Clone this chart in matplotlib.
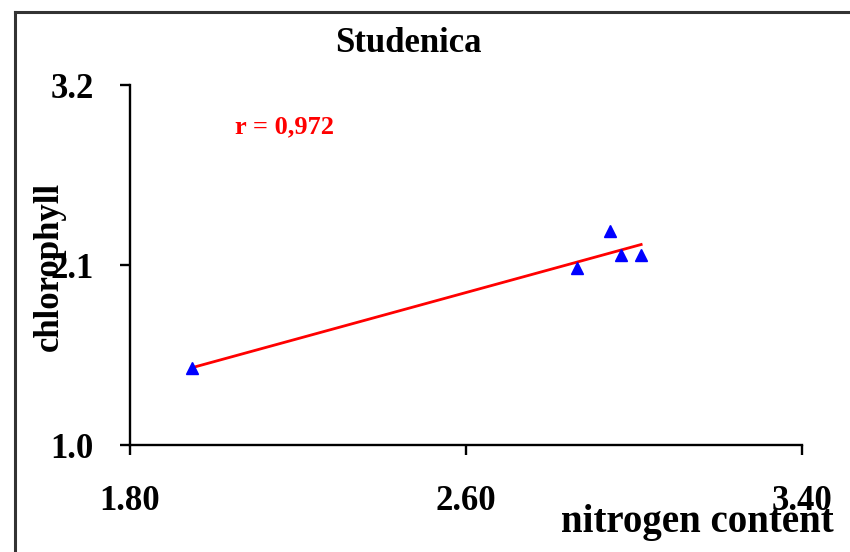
import numpy as np
import matplotlib
matplotlib.use('Agg')
import matplotlib.pyplot as plt
from matplotlib.lines import Line2D

# data
nitrogen = [1.948, 2.864, 2.943, 2.969, 3.017]
chlorophyll = [1.47, 2.08, 2.31, 2.16, 2.16]
x_ticks = [1.80, 2.60, 3.40]
y_ticks = [1.0, 2.1, 3.2]
r_text = 'r = 0,972'

plt.rcParams['font.family'] = ['Liberation Serif', 'DejaVu Serif']
plt.rcParams['font.weight'] = 'bold'

fig = plt.figure(figsize=(8.5, 5.52), dpi=100)
ax = fig.add_axes([130/850, 1-445/552, (802-130)/850, (445-85)/552])

# trendline from least squares fit
slope, icpt = np.polyfit(nitrogen, chlorophyll, 1)
xs = np.array([min(nitrogen), max(nitrogen)])
ax.plot(xs, slope*xs + icpt, color='red', lw=2.0, zorder=2)
ax.plot(nitrogen, chlorophyll, linestyle='none', marker='^', ms=8.5,
        color='blue', markeredgecolor='blue', zorder=3)

ax.set_xlim(1.8, 3.4)
ax.set_ylim(1.0, 3.2)
ax.set_xticks(x_ticks)
ax.set_xticklabels(['%.2f' % v for v in x_ticks])
ax.set_yticks(y_ticks)
ax.set_yticklabels(['%.1f' % v for v in y_ticks])
for s in ['top', 'right']:
    ax.spines[s].set_visible(False)
for s in ['left', 'bottom']:
    ax.spines[s].set_linewidth(1.7)
ax.tick_params(axis='y', direction='out', length=7, width=1.7, labelsize=25, pad=19)
ax.tick_params(axis='x', direction='out', length=7, width=1.7, labelsize=25, pad=22)

fig.text(408/850, 1-52/552, 'Studenica', ha='center', va='baseline', fontsize=25, fontweight='bold')
fig.text(235/850, 1-133/552, r_text, ha='left', va='baseline', fontsize=19, fontweight='bold', color='red')
fig.text(49/850, 1-266/552, 'chlorophyll', ha='center', va='center', rotation=90, fontsize=25, fontweight='bold')
fig.text(834/850, 1-532/552, 'nitrogen content', ha='right', va='baseline', fontsize=28, fontweight='bold')

# frame around the figure (only top and left edges show)
fig.add_artist(Line2D([15/850, 1.0], [1-12/552, 1-12/552], color='#333333', lw=2.2, transform=fig.transFigure))
fig.add_artist(Line2D([15/850, 15/850], [0.0, 1-12/552], color='#333333', lw=2.2, transform=fig.transFigure))

fig.savefig('out.png', dpi=100)
